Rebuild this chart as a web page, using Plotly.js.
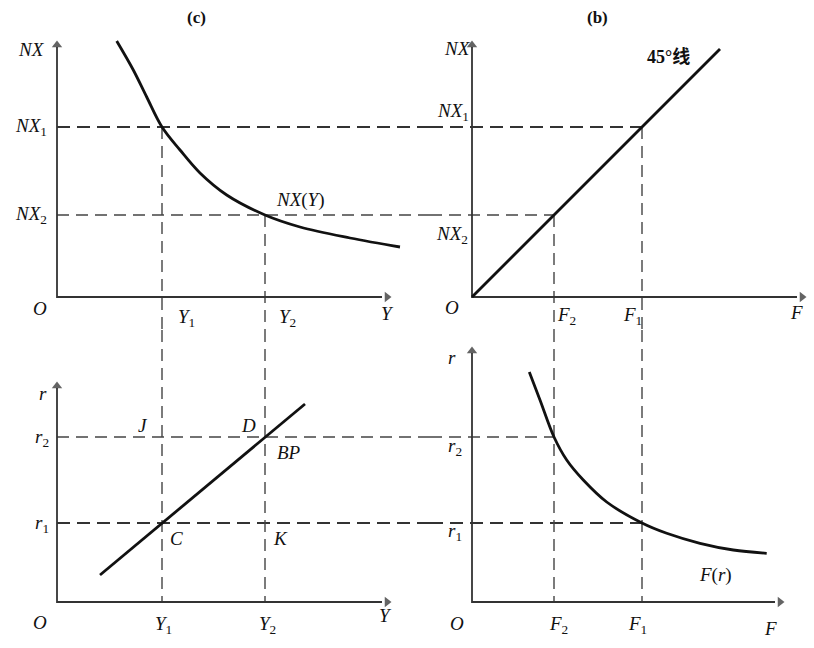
<!DOCTYPE html>
<html><head><meta charset="utf-8">
<script src="https://cdn.plot.ly/plotly-3.0.1.min.js"></script>
<style>html,body{margin:0;padding:0;background:#fff}</style>
</head><body>
<div id="chart" style="width:814px;height:648px"></div>
<script>
// Levels (units = 10 px from each origin)
const incomeY = [10.5, 20.8];      // Y1, Y2
const netExportNX = [17, 8.2];     // NX1, NX2
const flowF = [17, 8.2];           // F1, F2 (45° line: F = NX)
const rateR = [7.9, 16.5];         // r1, r2

// NX(Y) curve
const nxCurveY  = [5.97, 7.63, 8.97, 10.5, 12.3, 14.3, 16.97, 20.8, 24.3, 29.3, 34.3];
const nxCurveNX = [25.6, 22.7, 20.0, 17.0, 14.7, 12.4, 10.2, 8.2, 7.0, 5.9, 5.0];
// 45° line
const lineF  = [0, 24.8];
const lineNX = [0, 24.8];
// BP line
const bpY = [4.3, 24.8];
const bpR = [2.7, 19.8];
// F(r) curve
const fCurveF = [5.73, 6.8, 8.2, 9.47, 11.13, 13.47, 17.0, 19.47, 22.8, 26.13, 29.47];
const fCurveR = [23.0, 20.2, 16.5, 14.2, 12.2, 10.0, 7.9, 6.87, 5.87, 5.2, 4.87];

const X1R = [-5.7, 37.3], X2R = [-4.2, 34.2];
const Y1R = [-3.3, 29.7], Y2R = [-4.6, 27.2];

const solid = {color:'#111', width:2.8};
const dashB = {color:'#333', width:2, dash:'13px,7px'};
const dashT = {color:'#444', width:1.4, dash:'12px,7px'};

function seg(x, y, xa, ya, line){
  return {x:x, y:y, xaxis:xa, yaxis:ya, mode:'lines', line:line, hoverinfo:'skip', showlegend:false};
}

const traces = [];
// Horizontal dashed lines, top row
traces.push(seg([0, X1R[1]], [netExportNX[0], netExportNX[0]], 'x', 'y', dashB));
traces.push(seg([X2R[0], flowF[0]], [netExportNX[0], netExportNX[0]], 'x2', 'y', dashB));
traces.push(seg([0, X1R[1]], [netExportNX[1], netExportNX[1]], 'x', 'y', dashT));
traces.push(seg([X2R[0], flowF[1]], [netExportNX[1], netExportNX[1]], 'x2', 'y', dashT));
// Horizontal dashed lines, bottom row
traces.push(seg([0, X1R[1]], [rateR[0], rateR[0]], 'x', 'y2', dashB));
traces.push(seg([X2R[0], flowF[0]], [rateR[0], rateR[0]], 'x2', 'y2', dashB));
traces.push(seg([0, X1R[1]], [rateR[1], rateR[1]], 'x', 'y2', dashT));
traces.push(seg([X2R[0], flowF[1]], [rateR[1], rateR[1]], 'x2', 'y2', dashT));
// Vertical dashed lines, left column
traces.push(seg([incomeY[0], incomeY[0]], [netExportNX[0], Y1R[0]], 'x', 'y', dashT));
traces.push(seg([incomeY[0], incomeY[0]], [Y2R[1], 0], 'x', 'y2', dashT));
traces.push(seg([incomeY[1], incomeY[1]], [netExportNX[1], Y1R[0]], 'x', 'y', dashT));
traces.push(seg([incomeY[1], incomeY[1]], [Y2R[1], 0], 'x', 'y2', dashT));
// Vertical dashed lines, right column
traces.push(seg([flowF[0], flowF[0]], [netExportNX[0], Y1R[0]], 'x2', 'y', dashT));
traces.push(seg([flowF[0], flowF[0]], [Y2R[1], 0], 'x2', 'y2', dashT));
traces.push(seg([flowF[1], flowF[1]], [netExportNX[1], Y1R[0]], 'x2', 'y', dashT));
traces.push(seg([flowF[1], flowF[1]], [Y2R[1], 0], 'x2', 'y2', dashT));
// Axes (arrow shafts)
const axC = '#333', axW = 1.8;
traces.push(seg([0, 0, 32.5], [25.0, 0, 0], 'x', 'y', {color:axC, width:axW}));
traces.push(seg([0, 0, 32.5], [25.0, 0, 0], 'x2', 'y', {color:axC, width:axW}));
traces.push(seg([0, 0, 32.5], [21.4, 0, 0], 'x', 'y2', {color:axC, width:axW}));
traces.push(seg([0, 0, 30.3], [24.9, 0, 0], 'x2', 'y2', {color:axC, width:axW}));
// Curves
traces.push({x:nxCurveY, y:nxCurveNX, xaxis:'x', yaxis:'y', mode:'lines', line:Object.assign({shape:'spline', smoothing:1}, solid), hoverinfo:'skip', showlegend:false});
traces.push(seg(lineF, lineNX, 'x2', 'y', solid));
traces.push(seg(bpY, bpR, 'x', 'y2', solid));
traces.push({x:fCurveF, y:fCurveR, xaxis:'x2', yaxis:'y2', mode:'lines', line:Object.assign({shape:'spline', smoothing:1}, solid), hoverinfo:'skip', showlegend:false});

const FONT = '"Liberation Serif", "DejaVu Serif", serif';
function lab(text, xr, yr, x, y, size, extra){
  return Object.assign({text:text, xref:xr, yref:yr, x:x, y:y, showarrow:false,
    font:{family:FONT, size:size||19, color:'#111'}, xanchor:'center', yanchor:'middle'}, extra||{});
}
// arrow heads: markers pointing along the axes
const headTraces = [
  {x:[0], y:[25.2], xaxis:'x', yaxis:'y', sym:'triangle-up'},
  {x:[33.0], y:[0], xaxis:'x', yaxis:'y', sym:'triangle-right'},
  {x:[0], y:[25.2], xaxis:'x2', yaxis:'y', sym:'triangle-up'},
  {x:[33.0], y:[0], xaxis:'x2', yaxis:'y', sym:'triangle-right'},
  {x:[0], y:[21.6], xaxis:'x', yaxis:'y2', sym:'triangle-up'},
  {x:[33.0], y:[0], xaxis:'x', yaxis:'y2', sym:'triangle-right'},
  {x:[0], y:[25.1], xaxis:'x2', yaxis:'y2', sym:'triangle-up'},
  {x:[30.8], y:[0], xaxis:'x2', yaxis:'y2', sym:'triangle-right'}
];
headTraces.forEach(h => traces.push({x:h.x, y:h.y, xaxis:h.xaxis, yaxis:h.yaxis, mode:'markers',
  marker:{symbol:h.sym, size:[9], color:'#222', line:{width:0}}, hoverinfo:'skip', showlegend:false, cliponaxis:false}));

const ann = [
  // panel (c)
  lab('<b>(c)</b>', 'x','y', 13.9, 28, 17),
  lab('<i>NX</i>', 'x','y', -2.6, 24.8),
  lab('<i>NX</i><sub>1</sub>', 'x','y', -2.6, 17),
  lab('<i>NX</i><sub>2</sub>', 'x','y', -2.6, 8.2),
  lab('<i>O</i>', 'x','y', -1.7, -1.1),
  lab('<i>Y</i><sub>1</sub>', 'x','y', 12.9, -2.1),
  lab('<i>Y</i><sub>2</sub>', 'x','y', 23.0, -2.1),
  lab('<i>Y</i>', 'x','y', 33.0, -1.6),
  lab('<i>NX</i>(<i>Y</i>)', 'x','y', 24.3, 9.7),
  // panel (b)
  lab('<b>(b)</b>', 'x2','y', 12.5, 28, 17),
  lab('<i>NX</i>', 'x2','y', -1.5, 24.9),
  lab('<i>NX</i><sub>1</sub>', 'x2','y', -1.9, 18.5),
  lab('<i>NX</i><sub>2</sub>', 'x2','y', -2.0, 6.2),
  lab('<i>O</i>', 'x2','y', -2.0, -1.0),
  lab('<i>F</i><sub>2</sub>', 'x2','y', 9.4, -1.9),
  lab('<i>F</i><sub>1</sub>', 'x2','y', 16.0, -1.9),
  lab('<i>F</i>', 'x2','y', 32.4, -1.5),
  lab('<b>45°<span style="font-family:Noto Sans CJK SC">线</span></b>', 'x2','y', 19.6, 24.2, 18),
  // bottom left
  lab('<i>r</i>', 'x','y2', -1.4, 20.9),
  lab('<i>J</i>', 'x','y2', 8.6, 17.7),
  lab('<i>D</i>', 'x','y2', 19.1, 17.7),
  lab('<i>r</i><sub>2</sub>', 'x','y2', -1.5, 16.4),
  lab('<i>BP</i>', 'x','y2', 23.2, 15.0),
  lab('<i>r</i><sub>1</sub>', 'x','y2', -1.5, 7.8),
  lab('<i>C</i>', 'x','y2', 11.9, 6.4),
  lab('<i>K</i>', 'x','y2', 22.3, 6.4),
  lab('<i>O</i>', 'x','y2', -1.7, -2.0),
  lab('<i>Y</i><sub>1</sub>', 'x','y2', 10.6, -2.3),
  lab('<i>Y</i><sub>2</sub>', 'x','y2', 21.0, -2.3),
  lab('<i>Y</i>', 'x','y2', 32.8, -1.3),
  // bottom right
  lab('<i>r</i>', 'x2','y2', -2.0, 24.5),
  lab('<i>r</i><sub>2</sub>', 'x2','y2', -1.7, 15.5),
  lab('<i>r</i><sub>1</sub>', 'x2','y2', -1.7, 7.0),
  lab('<i>F</i>(<i>r</i>)', 'x2','y2', 24.3, 2.7),
  lab('<i>O</i>', 'x2','y2', -1.5, -2.1),
  lab('<i>F</i><sub>2</sub>', 'x2','y2', 8.6, -2.3),
  lab('<i>F</i><sub>1</sub>', 'x2','y2', 16.5, -2.3),
  lab('<i>F</i>', 'x2','y2', 29.8, -2.6)
];

const hid = {visible:false, fixedrange:true, showgrid:false, zeroline:false};
const splitTop = 1 - 330/648;
const layout = {
  width:814, height:648, margin:{l:0, r:0, t:0, b:0},
  paper_bgcolor:'#fff', plot_bgcolor:'rgba(0,0,0,0)', showlegend:false,
  font:{family:FONT, size:19, color:'#111'},
  xaxis:  Object.assign({domain:[0, 430/814], range:X1R, anchor:'y'}, hid),
  xaxis2: Object.assign({domain:[430/814, 1], range:X2R, anchor:'y'}, hid),
  yaxis:  Object.assign({domain:[splitTop, 1], range:Y1R, anchor:'x'}, hid),
  yaxis2: Object.assign({domain:[0, splitTop], range:Y2R, anchor:'x'}, hid),
  annotations: ann
};
Plotly.newPlot('chart', traces, layout, {staticPlot:true, displayModeBar:false});
</script>
</body></html>
